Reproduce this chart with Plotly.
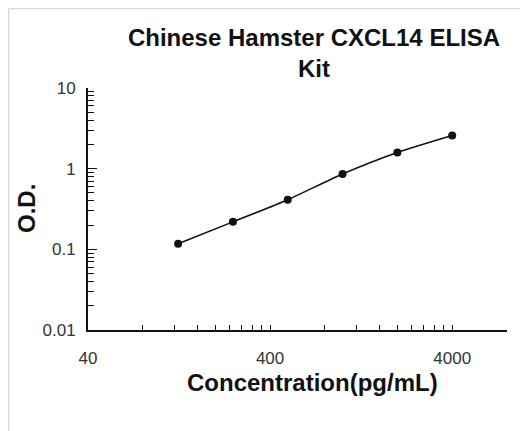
import plotly.graph_objects as go

# Standard curve
conc = [125, 250, 500, 1000, 2000, 4000]       # pg/mL
od = [0.117, 0.219, 0.413, 0.86, 1.59, 2.58]

x_major = [40, 400, 4000]
x_minor = [80, 120, 160, 200, 240, 280, 320, 360,
           800, 1200, 1600, 2000, 2400, 2800, 3200, 3600, 8000]
y_major = [0.01, 0.1, 1, 10]
y_minor = [0.02, 0.03, 0.04, 0.05, 0.06, 0.07, 0.08, 0.09,
           0.2, 0.3, 0.4, 0.5, 0.6, 0.7, 0.8, 0.9,
           2, 3, 4, 5, 6, 7, 8, 9]

FONT = "Arial, Liberation Sans, sans-serif"
INK = "#111111"
TICK = "#333333"
FRAME = "#d9d9d9"

# page body keeps its default 8px margin, so the figure is 8px smaller
W, H = 520, 423
L, R, T, B = 80, 21, 80, 101


def px_x(p):
    return (p - L) / (W - L - R)


def px_y(p):
    return (H - B - p) / (H - T - B)


fig = go.Figure()
fig.add_trace(go.Scatter(
    x=conc, y=od, mode="lines+markers",
    line=dict(color=INK, width=1.6, shape="spline", smoothing=0.6),
    marker=dict(color=INK, size=8),
    showlegend=False))

fig.update_layout(
    width=W, height=H,
    margin=dict(l=L, r=R, t=T, b=B, autoexpand=False),
    paper_bgcolor="white", plot_bgcolor="white",
    font=dict(family=FONT, color=TICK, size=17),
    title=dict(text="<b>Chinese Hamster CXCL14 ELISA<br>Kit</b>",
               font=dict(family=FONT, size=24, color=INK),
               xref="paper", x=px_x(306), xanchor="center",
               yref="container", y=1 - 38 / H, yanchor="top"),
)

fig.update_xaxes(
    type="log", range=[1.60206, 3.90309],
    tickmode="array", tickvals=x_major, ticktext=["40", "400", "4000"],
    ticks="inside", ticklen=5, tickwidth=1.3, tickcolor=INK,
    minor=dict(tickmode="array", tickvals=x_minor, ticks="inside",
               ticklen=5, tickwidth=1.3, tickcolor=INK, showgrid=False),
    showline=True, linecolor=INK, linewidth=1.8,
    showgrid=False, zeroline=False, ticklabelstandoff=12,
)
fig.update_yaxes(
    type="log", range=[-2, 1],
    tickmode="array", tickvals=y_major, ticktext=["0.01", "0.1", "1", "10"],
    ticks="inside", ticklen=9, tickwidth=1.3, tickcolor=INK,
    minor=dict(tickmode="array", tickvals=y_minor, ticks="inside",
               ticklen=6, tickwidth=1.3, tickcolor=INK, showgrid=False),
    showline=True, linecolor=INK, linewidth=1.8,
    showgrid=False, zeroline=False, ticklabelstandoff=7,
)

# axis titles placed like the original Excel export
fig.add_annotation(text="<b>Concentration(pg/mL)</b>", showarrow=False,
                   xref="paper", yref="paper", x=px_x(304), y=px_y(374),
                   xanchor="center", yanchor="middle",
                   font=dict(family=FONT, size=24, color=INK))
fig.add_annotation(text="<b>O.D.</b>", showarrow=False, textangle=-90,
                   xref="paper", yref="paper", x=px_x(18), y=px_y(201),
                   xanchor="center", yanchor="middle",
                   font=dict(family=FONT, size=24, color=INK))

# light frame along top and left, as in the cropped source image
fig.add_shape(type="line", xref="paper", yref="paper",
              x0=px_x(0.5), x1=px_x(W), y0=px_y(0.5), y1=px_y(0.5),
              line=dict(color=FRAME, width=1.5))
fig.add_shape(type="line", xref="paper", yref="paper",
              x0=px_x(0.5), x1=px_x(0.5), y0=px_y(0.5), y1=px_y(H),
              line=dict(color=FRAME, width=1.5))

fig.write_html("out.html")
